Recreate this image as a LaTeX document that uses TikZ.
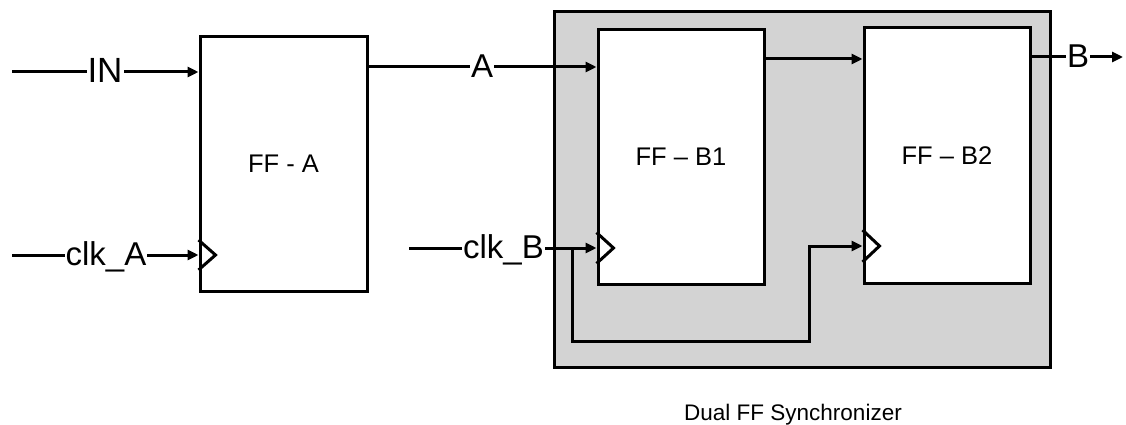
\documentclass[tikz,border=0pt]{standalone}
\usepackage{fontspec}
\setmainfont{Liberation Sans}
\usetikzlibrary{arrows.meta}
\definecolor{syncgrey}{RGB}{211,211,211}
\tikzset{
  wire/.style={line width=3pt, line join=miter},
  arr/.style={wire, -{Triangle[length=11pt,width=10pt]}},
  ffbox/.style={draw, line width=3pt, fill=white, rectangle, inner sep=0pt,
    minimum width=166pt, minimum height=254pt, font=\fontsize{25.5}{30}\selectfont},
  sigl/.style={fill=white, inner sep=1pt, anchor=base, font=\fontsize{33}{38}\selectfont},
  clkpin/.style={line width=3pt, line join=miter},
  captext/.style={inner sep=0pt, anchor=base, font=\fontsize{22.5}{26}\selectfont}
}
\begin{document}
\begin{tikzpicture}[x=1pt,y=-1pt]
\useasboundingbox (0,0) rectangle (1126,425);
% synchronizer enclosure
\node[draw, line width=3pt, fill=syncgrey, rectangle, inner sep=0pt,
  minimum width=496pt, minimum height=355pt] (sync) at (802,189.5) {};
% flip-flops
\node[ffbox, minimum width=167pt] (ffa) at (283.5,164) {FF - A};
\node[ffbox] (ffb1) at (681,157) {FF -- B1};
\node[ffbox, minimum height=255pt] (ffb2) at (947,155.5) {FF -- B2};
% clock pins
\draw[clkpin] (ffa.west |- 0,270) -- ++(17,-15) -- ++(-17,-15);
\draw[clkpin] (ffb1.west |- 0,263.5) -- ++(17,-15.5) -- ++(-17,-15.5);
\draw[clkpin] (ffb2.west |- 0,262) -- ++(17,-16) -- ++(-17,-16);
% free ends
\coordinate (inS) at (12,72);
\coordinate (clkAS) at (12,255);
\coordinate (clkBS) at (409,248);
\coordinate (aY) at (0,67);
\coordinate (b1Y) at (0,59);
\coordinate (bOut) at (1123,57);
\coordinate (brTop) at (572,248);
\coordinate (brBot) at (572,341);
\coordinate (brRight) at (809,341);
\coordinate (brUp) at (809,246);
% connectors
\draw[arr] (inS) -- (inS -| ffa.west);
\draw[arr] (clkAS) -- (clkAS -| ffa.west);
\draw[arr] (aY -| ffa.east) -- (aY -| ffb1.west);
\draw[arr] (clkBS) -- (clkBS -| ffb1.west);
\draw[arr] (b1Y -| ffb1.east) -- (b1Y -| ffb2.west);
\draw[arr] (brTop) -- (brBot) -- (brRight) -- (brUp) -- (brUp -| ffb2.west);
\draw[arr] (bOut -| ffb2.east) -- (bOut);
% signal labels
\node[sigl, font=\fontsize{35}{40}\selectfont] (inL) at (105,82.5) {IN};
\node[sigl] (clkAL) at (106,265.5) {clk\_A};
\node[sigl] (aL) at (482,77.5) {A};
\node[sigl] (clkBL) at (503.5,258.5) {clk\_B};
\node[sigl] (bL) at (1078,67.5) {B};
% caption
\node[captext] (capL) at (793,420) {Dual FF Synchronizer};
\end{tikzpicture}
\end{document}
